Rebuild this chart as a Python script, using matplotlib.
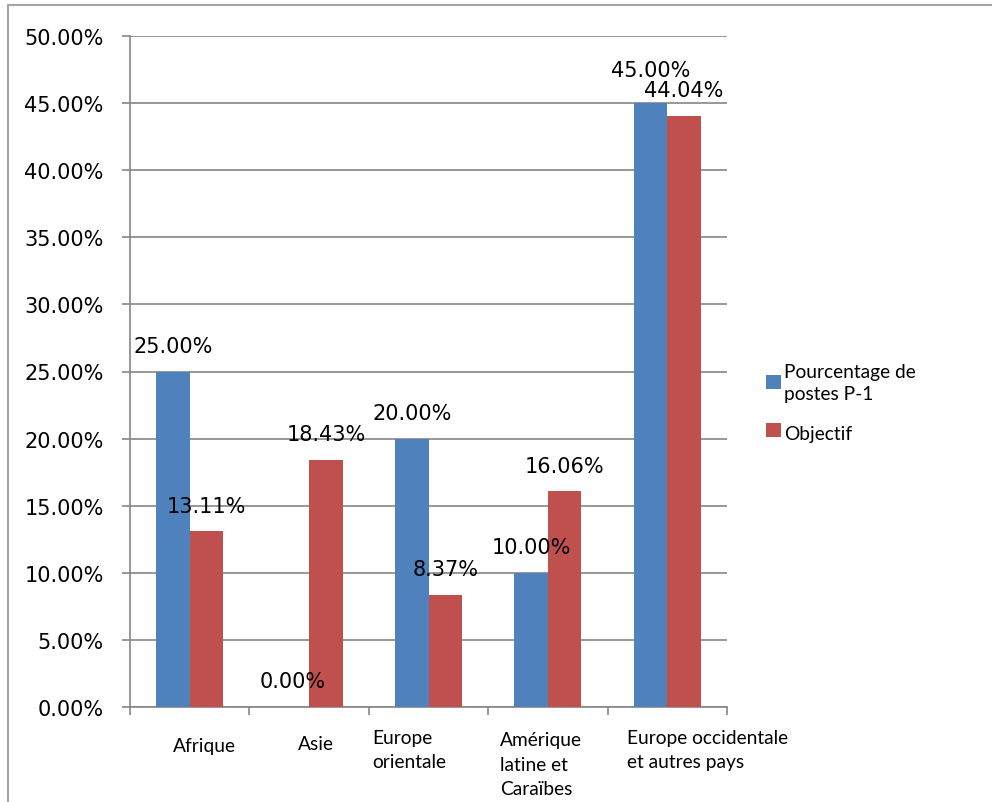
import matplotlib
matplotlib.use("Agg")
import matplotlib.pyplot as plt
from matplotlib.lines import Line2D
from matplotlib.patches import Rectangle
import numpy as np

categories = ["Afrique", "Asie", "Europe\norientale", "Amérique\nlatine et\nCaraïbes",
              "Europe occidentale\net autres pays"]
postes_p1 = [25.00, 0.00, 20.00, 10.00, 45.00]
objectif = [13.11, 18.43, 8.37, 16.06, 44.04]
series_names = ["Pourcentage de\npostes P-1", "Objectif"]

BLUE = "#4F81BD"
RED = "#C0504D"
GRID = "#868686"

W, H = 992, 803
fig = plt.figure(figsize=(W / 100, H / 100), dpi=100)
ax = fig.add_axes([130 / W, 1 - 708 / H, (727 - 130) / W, (708 - 37) / H])


def fx(p):
    return p / W


def fy(p):
    return 1 - p / H


x = np.arange(len(categories))
bw = 0.28
b1 = ax.bar(x - bw / 2, postes_p1, bw, color=BLUE, label=series_names[0], zorder=3)
b2 = ax.bar(x + bw / 2, objectif, bw, color=RED, label=series_names[1], zorder=3)

ax.set_xlim(-0.5, len(categories) - 0.5)
ax.set_ylim(0, 50)
ax.set_yticks(np.arange(0, 50.1, 5))
ax.set_yticklabels([f"{v:.2f}%" for v in np.arange(0, 50.1, 5)], fontsize=15,
                   family="DejaVu Sans")
ax.yaxis.grid(True, color=GRID, lw=1.2, zorder=0)
ax.tick_params(axis="y", length=6, width=1.2, color=GRID, pad=13)

ax.set_xticks([])
ax.set_xticks(np.arange(-0.5, len(categories)), minor=True)
ax.tick_params(axis="x", which="minor", length=6, width=1.2, color=GRID)
ax.tick_params(axis="x", which="major", length=0)

for s in ["top", "right"]:
    ax.spines[s].set_visible(False)
for s in ["left", "bottom"]:
    ax.spines[s].set_color(GRID)
    ax.spines[s].set_linewidth(1.2)

# value labels above each bar
px = 72 / 100
for bars, vals in [(b1, postes_p1), (b2, objectif)]:
    for rect, v in zip(bars, vals):
        lift = 27.5 if v > 44.5 else 19.5
        ax.annotate(f"{v:.2f}%", (rect.get_x() + rect.get_width() / 2, v),
                    xytext=(0, lift * px), textcoords="offset points",
                    ha="center", va="baseline", fontsize=15, family="DejaVu Sans",
                    zorder=4)

# category labels under the axis (left x, last-line baseline y, in pixels)
cat_pos = [(173, 752), (298, 750), (372, 768), (500, 795), (627, 768)]
for lab, (lx, by) in zip(categories, cat_pos):
    fig.text(fx(lx), fy(by), lab, ha="left", va="baseline", fontsize=13.8,
             family="Lato", linespacing=1.53, multialignment="left")

# legend: colour squares and series names
leg_rows = [(376, 400), (424, 440)]
for (sq_top, base), name, col in zip(leg_rows, series_names, [BLUE, RED]):
    fig.add_artist(Rectangle((fx(766), fy(sq_top + 14)), 15 / W, 14 / H,
                             facecolor=col, edgecolor="none",
                             transform=fig.transFigure))
    fig.text(fx(784), fy(base), name, ha="left", va="baseline", fontsize=13.8,
             family="Lato", linespacing=1.36)

# outer chart border, left and top edges
fig.add_artist(Line2D([fx(8), fx(8)], [0, fy(6)], color="#A6A6A6", lw=1.5,
                      transform=fig.transFigure))
fig.add_artist(Line2D([fx(8), 1], [fy(6), fy(6)], color="#A6A6A6", lw=1.5,
                      transform=fig.transFigure))

fig.savefig("out.png", dpi=100)
